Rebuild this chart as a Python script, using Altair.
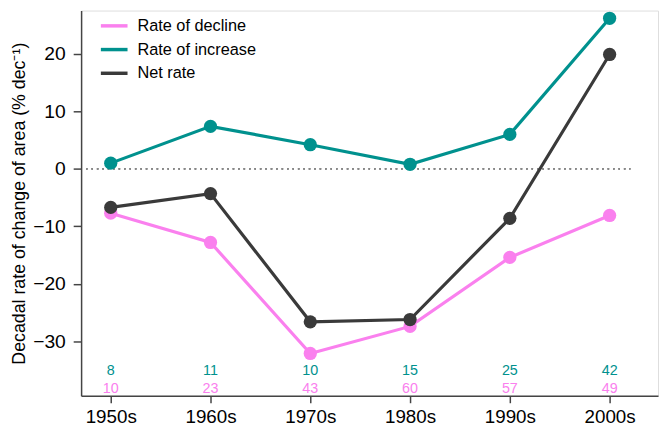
import altair as alt
import pandas as pd

decades = ["1950s", "1960s", "1970s", "1980s", "1990s", "2000s"]
decline = [-7.7, -12.8, -32.1, -27.4, -15.4, -8.1]
increase = [1.0, 7.4, 4.2, 0.8, 6.0, 26.2]
net = [-6.7, -4.3, -26.6, -26.2, -8.6, 19.9]
n_increase = [8, 11, 10, 15, 25, 42]
n_decline = [10, 23, 43, 60, 57, 49]

series_names = ["Rate of decline", "Rate of increase", "Net rate"]
series_colors = ["#FA80EE", "#00918E", "#3A3A3A"]

rows = []
for name, vals in zip(series_names, [decline, increase, net]):
    for i, (d, v) in enumerate(zip(decades, vals)):
        rows.append({"idx": i, "decade": d, "series": name, "value": v})
df = pd.DataFrame(rows)

counts = pd.DataFrame({"idx": list(range(len(decades))),
                       "n_inc": n_increase, "n_dec": n_decline})

label_expr = "[" + ",".join(f"'{d}'" for d in decades) + "][datum.value]"

xscale = alt.Scale(domain=[-0.297, 5.485], nice=False, zero=False)
yscale = alt.Scale(domain=[-39.47, 27.54], nice=False, zero=False)
font = "Liberation Sans"

xenc = alt.X("idx:Q", scale=xscale,
             axis=alt.Axis(values=list(range(len(decades))), labelExpr=label_expr,
                           title=None, grid=False, tickSize=7, labelPadding=5,
                           labelFontSize=19, labelColor="#000", labelFont=font,
                           domainColor="#444", domainWidth=1.5, tickColor="#444",
                           tickWidth=1.5, labelFlush=False))
yenc = alt.Y("value:Q", scale=yscale,
             axis=alt.Axis(values=[-30, -20, -10, 0, 10, 20], title="Decadal rate of change of area (% dec⁻¹)",
                           grid=False, tickSize=8, labelPadding=8, labelFontSize=19.5,
                           labelColor="#000", labelFont=font, titleFont=font,
                           titleFontSize=18, titleFontWeight="normal", titleColor="#000",
                           titlePadding=4, domainColor="#444", domainWidth=1.5,
                           tickColor="#444", tickWidth=1.5,
                           labelExpr="datum.value < 0 ? '\u2212' + abs(datum.value) : datum.value"))

color = alt.Color("series:N", scale=alt.Scale(domain=series_names, range=series_colors),
                  legend=alt.Legend(title=None, orient="none", legendX=18, legendY=0,
                                    symbolType="stroke", symbolSize=729, symbolStrokeWidth=3.5,
                                    labelFontSize=16.5, labelFont=font, labelColor="#000",
                                    rowPadding=0, labelOffset=8))

base = alt.Chart(df)

zero = alt.Chart(counts).mark_rule(color="#888", strokeDash=[1.5, 4], strokeWidth=1.2).encode(
    x=alt.value(5), x2=alt.value(556), y=alt.value(160.3)
)

lines = base.mark_line(strokeWidth=3.2).encode(x=xenc, y=yenc, color=color,
                                                 order="idx:Q")
points = base.mark_point(filled=True, opacity=1, size=180).encode(
    x=xenc, y=yenc, color=alt.Color("series:N", scale=alt.Scale(domain=series_names, range=series_colors), legend=None))

t_inc = alt.Chart(counts).mark_text(fontSize=14.5, font=font, color="#00918E", baseline="middle").encode(
    x=alt.X("idx:Q", scale=xscale), y=alt.value(365.3), text="n_inc:Q")
t_dec = alt.Chart(counts).mark_text(fontSize=14.5, font=font, color="#FA80EE", baseline="middle").encode(
    x=alt.X("idx:Q", scale=xscale), y=alt.value(382.7), text="n_dec:Q")

chart = alt.layer(zero, lines, points, t_inc, t_dec).properties(
    width=584, height=390,
    autosize=alt.AutoSizeParams(type="none"),
    padding={"left": 74, "top": 0, "right": 1, "bottom": 30},
).configure_view(stroke="#000", strokeWidth=1).configure(font=font)

chart.save("out.html", embed_options={"renderer": "svg", "actions": False})
